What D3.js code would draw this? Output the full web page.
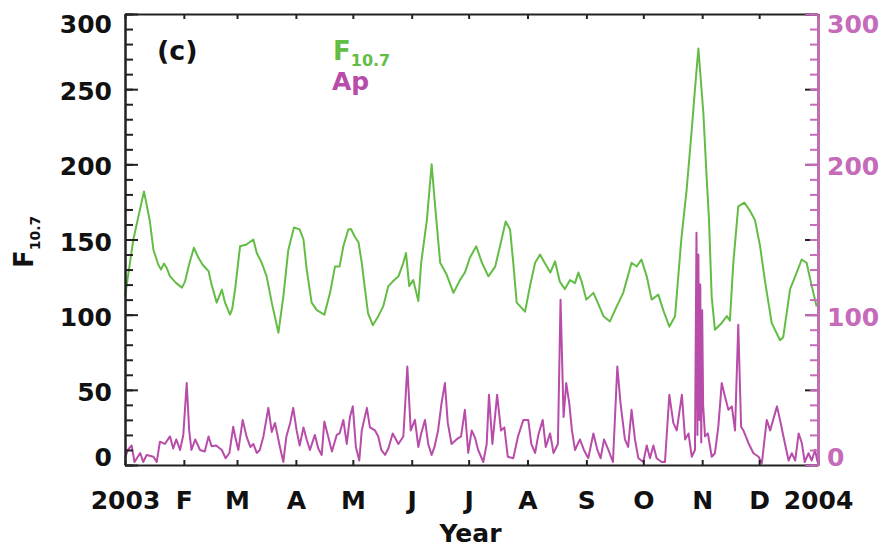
<!DOCTYPE html>
<html><head><meta charset="utf-8">
<script src="https://cdn.jsdelivr.net/npm/d3@7"></script>
<style>body{margin:0;background:#fff}svg{display:block}text{font-family:"DejaVu Sans",sans-serif;font-weight:bold}</style>
</head><body><svg id="c" width="883" height="550"></svg>
<script>
// ---- data (day of year 2003, value) ----
const f107Day = [0,4.4,7,10,13,15,17.6,19,20.5,22,23.7,27,30,31.6,34,36.3,38.6,41,44,45.6,48.3,51,52.7,55.3,56.5,58,60.6,64,67.6,69.4,72,74.6,77.3,80.8,83.4,86,89,92,94,95.7,98.3,101,105,108,110.6,113,115,117.6,119,121,123,124.7,126.4,128,130.5,133.4,136,138.7,141,144,146.6,148,149.7,151.8,154.5,156,159,161.5,163.8,166,169.4,173,176.4,179,181.7,185,188,191.4,195,197.5,200.5,202.8,204.5,206.3,210.7,213.3,216,218.6,221,224,226.5,229,231.7,234.4,237,238.8,240.5,243,246.7,249,252,255.4,259,262.4,266.8,269.5,272,274.8,277.4,280.9,283.5,286.7,289.7,293,295.8,298.5,300.2,302,304.6,306.4,307.6,309,310.7,314.3,317,318.6,320.4,323,326.2,329.2,331.8,334.5,337,340.6,345,346.7,350.3,353,356.4,359,361.7,364.3];
const f107Val = [112,150,165,182,163,143,133,130,134,131,125.5,121,118,122,134.5,144.5,138,133,129,120,108,116.7,108,100,104,117,145.5,146.7,150,141,134.5,125.5,108,88,112,143,158,156.7,150,130,108,103,100,114.5,132,132,145.5,156.7,157,152,148,134.5,117,101,93,99,105.5,119,122,125.5,134.5,141,119,123,109,134.5,163,200,165.5,134.5,126.7,114.5,123,128,138,145.5,134.5,125.5,132,145.5,162,156.7,134.5,108,102,119,134.5,140,134.5,128,135.5,122,117,123,121,128,122,110,114.5,108,99,95.5,105.5,114.5,134.5,132,136.7,125.5,110,113.3,103,92,99,150,183,223,250,277,234.5,190,163,112,90,94.5,99,96,134.5,172,174.5,169,163,145.5,123,94.5,83,85,117,125.5,136.7,134.5,119,105.5];
const apDay = [0,1.5,3.5,5,8,9.6,11.4,15,16.7,18.4,21,23.7,25.4,27,29,30.7,32.5,33.8,35,37,39.5,42,44,45.6,48,51,53,55,57,58,59.7,62,64,66,67.6,69.4,71,72.9,75.5,77.3,79,81.6,83.4,85,87,88.6,90.4,92,94,95.7,97.4,100,101.8,103.6,105,107,109,111.5,113,115,116.8,118.5,120,121.6,123.4,124.7,127.4,129,131.7,133.4,135,137,138.7,141,144,146.6,148.7,150.5,152.7,154.5,156,158,159.7,161.5,163,164.9,166.7,168.5,170,172,174.6,177,179,180.8,182.6,184.4,186,188.7,190.5,191.7,193.5,196,198,199.8,201.6,204.5,207,209.8,212.4,214,216,217.7,220,221.6,223.9,225.7,228,229.4,231,232.4,234,235.4,237,239.6,241.7,244,246.7,248.8,250.5,252.3,254.6,257,259.3,261,263.3,265,266.8,268.6,270.4,273,274.8,276.5,278.3,280,282.7,284.4,286.7,288.8,290.6,293.3,295,296.8,298.5,300.2,301,301.5,302,302.5,303,303.5,304,304.5,305.5,307,309,310.7,312.5,314.3,316,317.8,319.6,321.3,323,324.5,325.7,328.4,331,333.7,335.4,338,339.8,341.6,343.4,345,346.8,349.5,351.2,353,354.8,356.5,358,360,361.7,363.4,364.8];
const apVal = [4.5,10,13,2,8,2,6.7,5.5,2,15.5,14,19,11,17,10,20,54.5,23,10,17,10,9,19,12.5,13,10,4.5,8,25.5,19,10,30,19,12,14,8,10,19,38,22,28,12,2,19,28,38,23,13,25,17,10,20,11,6.7,29,19,9,20,21,30,14,32,39,12,3,23,38,25,23,19,10,6.7,11,21,14,19,65.5,23,30,12,21,30,14,6.7,12,23,41,54.5,28,14,17,19,36.7,8,23,18,10,2,14,46.7,14,46.7,23,25,5.5,4.5,19,30,30,14,8,20,30,12,21,8,14,110,32,54.5,41,23,10,17,10,4.5,21,10,4.5,17,10,2,65.5,41,17,12,36.7,17,4.5,2,13,4.5,13,4.5,2,2,46.7,28,23,46.7,17,21,5.5,10,154.5,20,140,30,120,15,103,40,19,21,5.5,7.8,25.5,54.5,45.5,36.7,39,23,93.3,25.5,23,14.5,7.8,5.5,1,30,23,31,39,30,19,3,7.8,3,21,14.5,2,7.8,3,10,2];
const monthTicks = [[2003,0],[2003,1],[2003,2],[2003,3],[2003,4],[2003,5],[2003,6],[2003,7],[2003,8],[2003,9],[2003,10],[2003,11],[2004,0]];
const monthLabels = ["2003","F","M","A","M","J","J","A","S","O","N","D","2004"];
const leftTicks = [0,50,100,150,200,250,300];
const rightTicks = [0,100,200,300];

const GREEN = "#63bd45", MAG = "#b84ca9", MAGAX = "#c56bb9";
const svg = d3.select("#c");
const L = 125, R = 818, T = 14, B = 465;
const t0 = Date.UTC(2003,0,1);
const toDate = d => new Date(t0 + d*864e5);
const x = d3.scaleUtc().domain([new Date(t0), new Date(Date.UTC(2004,0,1))]).range([L,R]);
const yL = d3.scaleLinear().domain([0,300]).range([B,T]);
const yR = d3.scaleLinear().domain([0,300]).range([B,T]);

// data lines
const fData = f107Day.map((d,i)=>[toDate(d), f107Val[i]]);
const aData = apDay.map((d,i)=>[toDate(d), apVal[i]]);
svg.append("path").datum(fData).attr("fill","none").attr("stroke",GREEN).attr("stroke-width",2).attr("stroke-linejoin","round")
  .attr("d", d3.line().x(d=>x(d[0])).y(d=>yL(d[1])));
svg.append("path").datum(aData).attr("fill","none").attr("stroke",MAG).attr("stroke-width",2).attr("stroke-linejoin","round")
  .attr("d", d3.line().x(d=>x(d[0])).y(d=>yR(d[1])));

// axes
const mDates = monthTicks.map(m=>new Date(Date.UTC(m[0],m[1],1)));
const fmtM = (d,i)=>monthLabels[i];
const gB = svg.append("g").attr("transform",`translate(0,${B})`)
  .call(d3.axisBottom(x).tickValues(mDates).tickFormat(fmtM).tickSizeInner(-5).tickSizeOuter(0).tickPadding(26));
const gT = svg.append("g").attr("transform",`translate(0,${T})`)
  .call(d3.axisTop(x).tickValues(mDates).tickFormat("").tickSizeInner(-5).tickSizeOuter(0));
const minorL = d3.range(0,301,10);
const gLm = svg.append("g").attr("transform",`translate(${L},0)`)
  .call(d3.axisLeft(yL).tickValues(minorL).tickFormat("").tickSizeInner(-8).tickSizeOuter(0));
const gL = svg.append("g").attr("transform",`translate(${L},0)`)
  .call(d3.axisLeft(yL).tickValues(leftTicks).tickSizeInner(-13).tickSizeOuter(0).tickPadding(13));
// mirrored black ticks of left axis on right side
const gRm = svg.append("g").attr("transform",`translate(${R},0)`)
  .call(d3.axisRight(yL).tickValues(leftTicks).tickFormat("").tickSizeInner(-13).tickSizeOuter(0));
const gRm2 = svg.append("g").attr("transform",`translate(${R},0)`)
  .call(d3.axisRight(yR).tickValues(minorL).tickFormat("").tickSizeInner(-8).tickSizeOuter(0));
const gR = svg.append("g").attr("transform",`translate(${R},0)`)
  .call(d3.axisRight(yR).tickValues(rightTicks).tickSizeInner(-13).tickSizeOuter(0).tickPadding(9));

[gB,gT,gLm,gL,gRm].forEach(g=>{g.selectAll("path.domain").attr("stroke","#222").attr("stroke-width",2);
  g.selectAll(".tick line").attr("stroke","#222").attr("stroke-width",2);});
[gRm2,gR].forEach(g=>{g.selectAll("path.domain").attr("stroke",MAGAX).attr("stroke-width",2);
  g.selectAll(".tick line").attr("stroke",MAGAX).attr("stroke-width",2);});
svg.selectAll(".tick text").attr("font-size",25).attr("font-family","DejaVu Sans").attr("font-weight","bold");
gB.selectAll(".tick text").attr("fill","#111");
gL.selectAll(".tick text").attr("fill","#111").attr("dy",d=>d===300?"0.74em":(d===0?"0.02em":"0.42em"));
gR.selectAll(".tick text").attr("fill",MAGAX).attr("dy",d=>d===300?"0.74em":(d===0?"0.02em":"0.42em"));

// titles
svg.append("text").attr("x",(L+R)/2-1).attr("y",542).attr("text-anchor","middle").attr("font-size",25).attr("fill","#111").text("Year");
const yt = svg.append("text").attr("transform","translate(33,268) rotate(-90)").attr("fill","#111");
yt.append("tspan").attr("font-size",26).text("F");
yt.append("tspan").attr("font-size",14).attr("dy",7).text("10.7");
svg.append("text").attr("x",157).attr("y",60).attr("font-size",27).attr("fill","#111").text("(c)");
const lg = svg.append("text").attr("x",333).attr("y",60).attr("fill",GREEN);
lg.append("tspan").attr("font-size",26).text("F");
lg.append("tspan").attr("font-size",16).attr("dy",6).text("10.7");
svg.append("text").attr("x",332).attr("y",90).attr("font-size",25).attr("fill",MAG).text("Ap");
</script></body></html>
